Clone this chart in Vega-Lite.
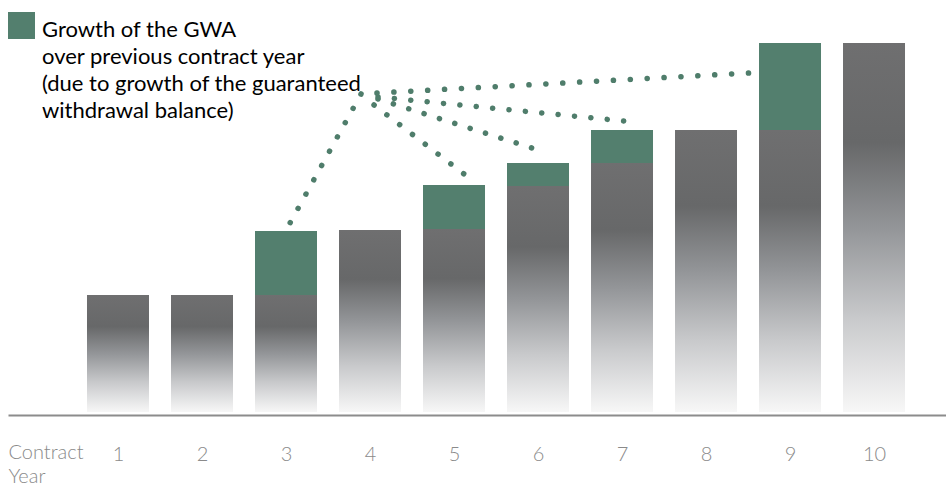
{
  "$schema": "https://vega.github.io/schema/vega-lite/v6.json",
  "width": 938,
  "height": 412,
  "autosize": {"type": "none"},
  "padding": {"left": 8, "top": 0, "right": 0, "bottom": 75},
  "background": "white",
  "config": {
    "view": {"stroke": null},
    "style": {"guide-label": {"lineHeight": 27}}
  },
  "datasets": {
    "gwa": [
      {"year": 1, "base": 117, "gwa": 117},
      {"year": 2, "base": 117, "gwa": 117},
      {"year": 3, "base": 117, "gwa": 181},
      {"year": 4, "base": 182, "gwa": 182},
      {"year": 5, "base": 183, "gwa": 227},
      {"year": 6, "base": 226, "gwa": 249},
      {"year": 7, "base": 249, "gwa": 282},
      {"year": 8, "base": 282, "gwa": 282},
      {"year": 9, "base": 282, "gwa": 369},
      {"year": 10, "base": 369, "gwa": 369}
    ],
    "leaders": [
      {"leader": "y3", "seq": 0, "x": 3.893, "y": 318},
      {"leader": "y3", "seq": 1, "x": 3.048, "y": 189},
      {"leader": "y5", "seq": 0, "x": 4.048, "y": 307},
      {"leader": "y5", "seq": 1, "x": 5.119, "y": 238},
      {"leader": "y6", "seq": 0, "x": 4.095, "y": 313},
      {"leader": "y6", "seq": 1, "x": 5.929, "y": 264},
      {"leader": "y7", "seq": 0, "x": 4.095, "y": 315},
      {"leader": "y7", "seq": 1, "x": 7.024, "y": 291},
      {"leader": "y9", "seq": 0, "x": 4.083, "y": 319},
      {"leader": "y9", "seq": 1, "x": 8.512, "y": 339}
    ]
  },
  "layer": [
    {
      "data": {"name": "gwa"},
      "mark": {
        "type": "bar",
        "width": 62,
        "color": {
          "gradient": "linear",
          "x1": 0, "y1": 0, "x2": 0, "y2": 1,
          "stops": [
            {"offset": 0, "color": "#6f6f70"},
            {"offset": 0.27, "color": "#676869"},
            {"offset": 0.5, "color": "#939598"},
            {"offset": 0.75, "color": "#c9cacc"},
            {"offset": 1, "color": "#f7f7f7"}
          ]
        }
      },
      "encoding": {
        "x": {
          "field": "year",
          "type": "quantitative",
          "scale": {"domain": [-0.3095, 10.857], "nice": false, "zero": false, "padding": 0},
          "axis": {
            "orient": "bottom",
            "offset": 3,
            "values": [1, 2, 3, 4, 5, 6, 7, 8, 9, 10],
            "format": "d",
            "ticks": false,
            "grid": false,
            "domainColor": "#8c8c8c",
            "domainWidth": 2,
            "labelFont": "Lato",
            "labelFontSize": 20,
            "labelFontWeight": 300,
            "labelColor": "#8a8a8a",
            "labelPadding": 29,
            "labelFlush": false,
            "labelOverlap": false,
            "title": ["Contract", "Year"],
            "titleX": 0,
            "titleY": 27,
            "titleAlign": "left",
            "titleBaseline": "top",
            "titleAngle": 0,
            "titleFont": "Lato",
            "titleFontSize": 20,
            "titleFontWeight": 300,
            "titleColor": "#8a8a8a",
            "titleLineHeight": 24
          }
        },
        "y": {
          "field": "base",
          "type": "quantitative",
          "scale": {"domain": [0, 412], "nice": false},
          "axis": null
        }
      }
    },
    {
      "data": {"name": "gwa"},
      "transform": [{"filter": "datum.gwa > datum.base"}],
      "mark": {"type": "bar", "width": 62},
      "encoding": {
        "x": {"field": "year", "type": "quantitative"},
        "y": {"field": "gwa", "type": "quantitative"},
        "y2": {"field": "base"},
        "color": {
          "datum": "Growth of the GWA",
          "type": "nominal",
          "scale": {"range": ["#537f6e"]},
          "legend": {
            "orient": "none",
            "legendX": 0,
            "legendY": 6.5,
            "padding": 0,
            "title": null,
            "symbolType": "M-1,-0.593H1V1.407H-1Z",
            "symbolSize": 729,
            "symbolStrokeWidth": 0,
            "labelExpr": "['Growth of the GWA', 'over previous contract year', '(due to growth of the guaranteed', 'withdrawal balance)']",
            "labelFont": "Lato",
            "labelFontSize": 22,
            "labelColor": "#000000",
            "labelBaseline": "top",
            "labelLimit": 0,
            "labelOffset": 7
          }
        }
      }
    },
    {
      "data": {"name": "leaders"},
      "mark": {
        "type": "line",
        "color": "#4f7d6b",
        "strokeWidth": 5.5,
        "strokeCap": "round"
      },
      "encoding": {
        "x": {"field": "x", "type": "quantitative"},
        "y": {"field": "y", "type": "quantitative"},
        "detail": {"field": "leader"},
        "order": {"field": "seq"},
        "strokeDash": {
          "field": "leader",
          "type": "nominal",
          "scale": {
            "domain": ["y3", "y5", "y6", "y7", "y9"],
            "range": [[0.1, 16.21], [0.1, 16.03], [0.1, 16.01], [0.1, 16.35], [0.1, 16.81]]
          },
          "legend": null
        }
      }
    }
  ]
}
